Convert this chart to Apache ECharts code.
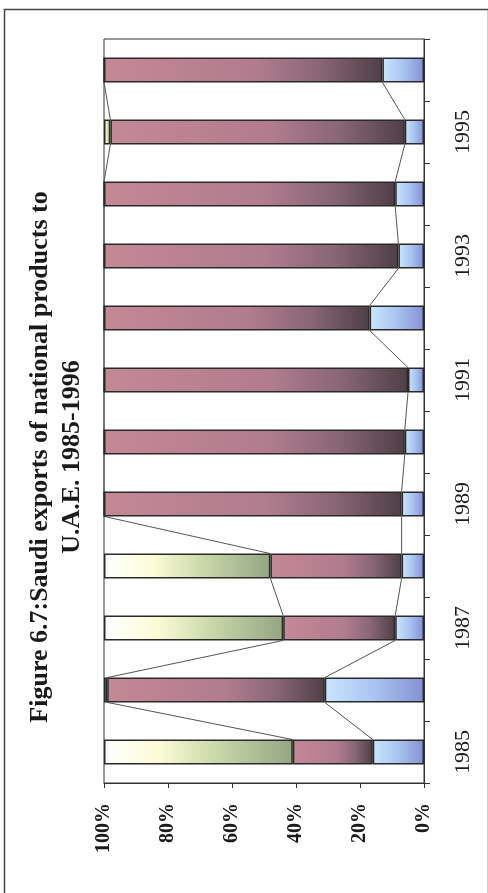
<!DOCTYPE html>
<html><head><meta charset="utf-8">
<script src="https://cdn.jsdelivr.net/npm/echarts@6/dist/echarts.min.js"></script>
<style>html,body{margin:0;padding:0;background:#fff;overflow:hidden}#c{width:488px;height:893px;}</style>
</head><body><div id="c"></div>
<script>
const years = ['1985','1986','1987','1988','1989','1990','1991','1992','1993','1994','1995','1996'];
const blueShare  = [16, 31, 9, 7, 7, 6, 5, 17, 8, 9, 6, 13];
const mauveShare = [25, 68, 35, 41, 93, 94, 95, 83, 92, 91, 92, 87];
const greenShare = [59, 1, 56, 52, 0, 0, 0, 0, 0, 0, 2, 0];
const titleLines = ['Figure 6.7:Saudi exports of national products to', 'U.A.E. 1985-1996'];

const serif = '"Liberation Serif", "Times New Roman", serif';
const chart = echarts.init(document.getElementById('c'), null, {renderer: 'canvas'});

const cumBlue = blueShare.slice();
const cumMauve = blueShare.map((b, i) => b + mauveShare[i]);
const lineData = [];
for (let i = 0; i < years.length - 1; i++) {
  lineData.push([i, cumBlue[i], cumBlue[i + 1]]);
  lineData.push([i, cumMauve[i], cumMauve[i + 1]]);
}

function grad(stops) {
  return new echarts.graphic.LinearGradient(0, 0, 1, 0, stops.map(s => ({offset: s[0], color: s[1]})));
}
const border = {borderColor: '#2a2a2a', borderWidth: 1.5};

chart.setOption({
  animation: false,
  backgroundColor: '#fff',
  grid: {left: 104, right: 64, top: 39, bottom: 110, containLabel: false, outerBoundsMode: 'none',
         show: true, borderColor: '#333', borderWidth: 1, backgroundColor: 'transparent'},
  xAxis: {
    type: 'value', inverse: true, min: 0, max: 100, interval: 20, position: 'bottom',
    splitLine: {show: false},
    axisLine: {show: true, lineStyle: {color: '#333', width: 1}},
    axisTick: {show: true, length: 5, lineStyle: {color: '#333'}},
    axisLabel: {rotate: 90, margin: 20, formatter: v => v + '%', color: '#1a1a1a',
                fontFamily: serif, fontWeight: 'bold', fontSize: 20}
  },
  yAxis: {
    type: 'category', data: years, position: 'right',
    axisLine: {show: true, lineStyle: {color: '#333', width: 1}},
    axisTick: {show: true, length: 6, interval: 0, lineStyle: {color: '#333'}},
    axisLabel: {rotate: 90, interval: 1, margin: 28, color: '#1a1a1a',
                fontFamily: serif, fontSize: 22}
  },
  series: [
    {type: 'bar', stack: 's', data: blueShare, barWidth: '40%',
     itemStyle: Object.assign({color: grad([[0, '#c9e6ff'], [0.5, '#a9c4f0'], [1, '#8590d4']])}, border)},
    {type: 'bar', stack: 's', data: mauveShare, barWidth: '40%',
     itemStyle: Object.assign({color: grad([[0, '#c48896'], [0.55, '#b07c8e'], [0.78, '#886676'], [1, '#4f3f46']])}, border)},
    {type: 'bar', stack: 's', data: greenShare, barWidth: '40%',
     itemStyle: Object.assign({color: grad([[0, '#ffffff'], [0.3, '#fbfbd6'], [0.6, '#c8d8a8'], [1, '#94a584']])}, border)},
    {type: 'custom', data: lineData, encode: {x: [1, 2], y: 0}, z: 1,
     renderItem: function (params, api) {
       const i = api.value(0);
       const p1 = api.coord([api.value(1), i]);
       const p2 = api.coord([api.value(2), i + 1]);
       const hw = api.size([0, 1])[1] * 0.2;
       return {type: 'line', shape: {x1: p1[0], y1: p1[1] - hw, x2: p2[0], y2: p2[1] + hw},
               style: {stroke: '#555', lineWidth: 1}};
     }}
  ],
  graphic: [
    {type: 'rect', left: 2, top: 7, shape: {x: 0, y: 0, width: 484, height: 900},
     style: {fill: 'none', stroke: '#444', lineWidth: 1.5}, silent: true},
    {type: 'text', x: 40, y: 457, rotation: Math.PI / 2,
     style: {text: titleLines[0], font: 'bold 26px ' + serif, fill: '#1a1a1a', textAlign: 'center', textVerticalAlign: 'middle'}},
    {type: 'text', x: 72, y: 457, rotation: Math.PI / 2,
     style: {text: titleLines[1], font: 'bold 26px ' + serif, fill: '#1a1a1a', textAlign: 'center', textVerticalAlign: 'middle'}}
  ]
});
</script></body></html>
